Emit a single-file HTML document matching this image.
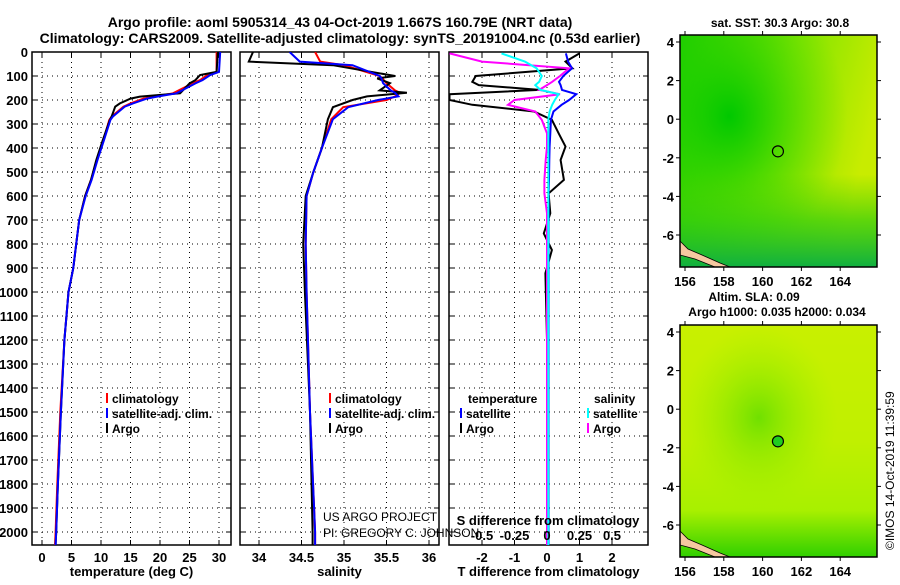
<!DOCTYPE html>
<html><head><meta charset="utf-8"><style>
body{margin:0;background:#fff;width:900px;height:580px;overflow:hidden}
svg{font-family:"Liberation Sans",Arial,sans-serif;font-weight:bold}
</style></head><body>
<svg id="c" width="900" height="580" viewBox="0 0 900 580">
<defs>
<radialGradient id="g1" cx="0.25" cy="0.35" r="0.6"><stop offset="0" stop-color="#00c800"/><stop offset="1" stop-color="#40d800" stop-opacity="0"/></radialGradient>
<linearGradient id="g0" x1="0" y1="0" x2="1" y2="0.3"><stop offset="0" stop-color="#18cc00"/><stop offset="0.55" stop-color="#80e400"/><stop offset="1" stop-color="#c8ec00"/></linearGradient>
<linearGradient id="g2" x1="0" y1="0" x2="0" y2="1"><stop offset="0.6" stop-color="#40d000" stop-opacity="0"/><stop offset="0.8" stop-color="#30cc10" stop-opacity="0.7"/><stop offset="1" stop-color="#10b040"/></linearGradient>
<linearGradient id="h0" x1="0" y1="0" x2="0" y2="1"><stop offset="0" stop-color="#c8f000"/><stop offset="0.5" stop-color="#c0f000"/><stop offset="0.8" stop-color="#a8f000"/><stop offset="1" stop-color="#30d000"/></linearGradient>
<radialGradient id="h1" cx="0.4" cy="0.4" r="0.4"><stop offset="0" stop-color="#70e000"/><stop offset="1" stop-color="#a0f000" stop-opacity="0"/></radialGradient>
</defs>
<g id="plots"></g>
<g id="maps"></g>
<text transform="translate(894,550) rotate(-90)" font-size="12" font-weight="normal">©IMOS 14-Oct-2019 11:39:59</text>
</svg>
<script>
// ---------- data ----------
const depthTicks=[0,100,200,300,400,500,600,700,800,900,1000,1100,1200,1300,1400,1500,1600,1700,1800,1900,2000];
const tTicks=[0,5,10,15,20,25,30];
const sTicks=[34,34.5,35,35.5,36];
const dTTicks=[-2,-1,0,1,2];
const dSTicks=[-0.5,-0.25,0,0.25,0.5];
const dSLabels=["-0.5","-0.25","0","0.25","0.5"];
const tDepth=[0,83,96,117,131,172,186,194,214,228,269,283,367,450,533,600,700,800,900,1000,1200,1500,1800,2000,2055];
const tArgo=[29.8,29.6,26.8,26,25,23.4,16.6,15,13.2,12.4,11.8,11.5,10.3,9.2,8.3,7.3,6.3,5.8,5.3,4.5,3.8,3.2,2.7,2.4,2.3];
const tClim=[29.6,29.6,28,26.8,25.5,22.2,19,17.2,15,13.8,11.8,11.4,10.4,9.3,8.3,7.3,6.3,5.8,5.3,4.5,3.8,3.1,2.6,2.3,2.2];
const tSat=[30.2,30,28.5,27.2,26,22.8,19.5,17.8,15.4,14,12,11.6,10.5,9.4,8.4,7.4,6.3,5.8,5.3,4.5,3.8,3.2,2.7,2.4,2.3];
const sDepth=[0,40,55,100,110,130,160,170,185,200,230,280,400,500,600,800,1000,1500,2000,2055];
const sArgo=[33.93,33.88,34.87,35.6,35.39,35.54,35.42,35.74,35.27,35.1,34.87,34.81,34.74,34.64,34.55,34.52,34.54,34.6,34.63,34.63];
const sClim=[34.66,34.72,35.0,35.42,35.45,35.5,35.6,35.66,35.6,35.5,34.99,34.85,34.74,34.64,34.56,34.55,34.56,34.6,34.66,34.66];
const sSat=[34.36,34.48,35.1,35.42,35.44,35.46,35.55,35.6,35.64,35.4,35.05,34.87,34.74,34.64,34.56,34.55,34.56,34.6,34.66,34.66];
const dDepth=[6,40,68,100,124,138,158,176,200,220,248,283,339,394,450,533,589,672,756,825,922,1200,1600,2055];
const dTArgo=[1.0,0.57,0.78,-2.19,-2.3,-2.1,-0.24,-3.0,-3.0,-2.3,-0.4,0.15,0.36,0.57,0.42,0.52,0.05,0.1,-0.1,0.15,-0.05,0,0,0];
const dTSat=[0.58,0.65,0.77,0.5,0.37,0.42,0.46,0.9,0.68,0.45,0.2,0.12,0.1,0.08,0.07,0.06,0.05,0.05,0.05,0.05,0.05,0.05,0.05,0.05];
const dSArgo=[-0.75,-0.5,0.17,0.1,0.04,0.0,-0.06,0.1,-0.25,-0.3,-0.09,-0.04,0,0,-0.01,-0.02,-0.02,0,0,0,0,0,0,0];
const dSSat=[-0.35,-0.17,-0.08,-0.04,-0.06,-0.09,-0.05,0.09,0.06,0.04,0.02,0.01,0.01,0.01,0.01,0.01,0.01,0.01,0.01,0.01,0.01,0.01,0.01,0.01];
// ---------- helpers ----------
const NS="http://www.w3.org/2000/svg";
const P=document.getElementById('plots');
function mk(tag,at,par){const e=document.createElementNS(NS,tag);for(const k in at)e.setAttribute(k,at[k]);(par||P).appendChild(e);return e;}
const Y0=52,YB=545;
const yS=d=>Y0+d*0.24;
function txt(x,y,s,sz,anchor,name,par){const t=mk('text',{x:x,y:y,'font-size':sz,'text-anchor':anchor||'middle'},par);t.textContent=s;


return t;}
function panel(name,x0,x1,xS,ticks,labels,title,showDepth){
  const g=mk('g',{});
  
  
  const clip=mk('clipPath',{id:'cl'+name},g);mk('rect',{x:x0,y:Y0,width:x1-x0,height:YB-Y0},clip);
  depthTicks.forEach(d=>{const l=mk('line',{x1:x0,x2:x1,y1:yS(d),y2:yS(d),stroke:'#000','stroke-width':1,'stroke-dasharray':'1,4'},g);
    
    
    mk('line',{x1:x0,x2:x0+5,y1:yS(d),y2:yS(d),stroke:'#000'},g);mk('line',{x1:x1-5,x2:x1,y1:yS(d),y2:yS(d),stroke:'#000'},g);
    if(showDepth)txt(x0-4,yS(d)+5,String(d),13,'end','depth-tick-label',g);});
  ticks.forEach((v,i)=>{const x=xS(v);const l=mk('line',{x1:x,x2:x,y1:Y0,y2:YB,stroke:'#000','stroke-dasharray':'1,4'},g);
    
    
    mk('line',{x1:x,x2:x,y1:YB-5,y2:YB,stroke:'#000'},g);mk('line',{x1:x,x2:x,y1:Y0,y2:Y0+5,stroke:'#000'},g);
    txt(x,562,labels[i],13,'middle','x-tick-label',g);});
  mk('rect',{x:x0,y:Y0,width:x1-x0,height:YB-Y0,fill:'none',stroke:'#000','stroke-width':1.5},g);
  txt((x0+x1)/2,576,title,13,'middle','x-axis-title',g);
  return g;}
function line(g,name,clip,xs,ds,vals,xS,col,w){
  const pts=vals.map((v,i)=>xS(v).toFixed(1)+','+yS(ds[i]).toFixed(1)).join(' ');
  const p=mk('polyline',{points:pts,fill:'none',stroke:col,'stroke-width':w||2,'clip-path':'url(#cl'+clip+')'},g);
  
  }
function leg(g,x,y,col,s){mk('line',{x1:x,x2:x,y1:y-10,y2:y,stroke:col,'stroke-width':2},g);txt(x+5,y,s,12,'start','legend-entry',g);}
// titles
txt(340,27,'Argo profile: aoml 5905314_43 04-Oct-2019 1.667S 160.79E (NRT data)',14,'middle','chart-title');
txt(340,43,'Climatology: CARS2009. Satellite-adjusted climatology: synTS_20191004.nc (0.53d earlier)',14,'middle','chart-subtitle');
// panel 1
const xT=t=>42+t*5.9;
const g1=panel('temperature-panel',32,231,xT,tTicks,tTicks.map(String),'temperature (deg C)',true);
line(g1,'temp-climatology-line','temperature-panel',0,tDepth,tClim,xT,'#f00');
line(g1,'temp-argo-line','temperature-panel',0,tDepth,tArgo,xT,'#000');
line(g1,'temp-satellite-line','temperature-panel',0,tDepth,tSat,xT,'#00f');
leg(g1,107,403,'#f00','climatology');leg(g1,107,418,'#00f','satellite-adj. clim.');leg(g1,107,433,'#000','Argo');
// panel 2
const xSal=s=>259+(s-34)*85;
const g2=panel('salinity-panel',240,439,xSal,sTicks,['34','34.5','35','35.5','36'],'salinity',false);
line(g2,'sal-climatology-line','salinity-panel',0,sDepth,sClim,xSal,'#f00');
line(g2,'sal-argo-line','salinity-panel',0,sDepth,sArgo,xSal,'#000');
line(g2,'sal-satellite-line','salinity-panel',0,sDepth,sSat,xSal,'#00f');
leg(g2,330,403,'#f00','climatology');leg(g2,330,418,'#00f','satellite-adj. clim.');leg(g2,330,433,'#000','Argo');
const pr=txt(323,521,'US ARGO PROJECT',12,'start','project-credit',g2);pr.setAttribute('font-weight','normal');
const pi=txt(323,537,'PI: GREGORY C. JOHNSON',12,'start','pi-credit',g2);pi.setAttribute('font-weight','normal');
// panel 3
const xD=v=>547+v*32.5;const xDS=v=>547+v*130;
const g3=panel('difference-panel',449,648,xD,dTTicks,dTTicks.map(String),'T difference from climatology',false);
line(g3,'dT-argo-line','difference-panel',0,dDepth,dTArgo,xD,'#000');
line(g3,'dT-satellite-line','difference-panel',0,dDepth,dTSat,xD,'#00f');
line(g3,'dS-argo-line','difference-panel',0,dDepth,dSArgo,xDS,'#f0f');
line(g3,'dS-satellite-line','difference-panel',0,dDepth,dSSat,xDS,'#0ff');
txt(468,403,'temperature',12,'start','legend-title-temperature',g3);
txt(594,403,'salinity',12,'start','legend-title-salinity',g3);
leg(g3,461,418,'#00f','satellite');leg(g3,461,433,'#000','Argo');
leg(g3,588,418,'#0ff','satellite');leg(g3,588,433,'#f0f','Argo');
txt(548,525,'S difference from climatology',13,'middle','s-axis-title',g3);
dSTicks.forEach((v,i)=>txt(xDS(v),540,dSLabels[i],13,'middle','s-tick-label',g3));
// ---------- maps ----------
const M=document.getElementById('maps');
const lonTicks=[156,158,160,162,164];const latTicks=[4,2,0,-2,-4,-6];
function map(name,top,fillA,fillB,circleFill){
  const g=mk('g',{},M);
  
  
  const x0=680,w=197,h=232;
  mk('rect',{x:x0,y:top,width:w,height:h,fill:fillA},g);
  fillB.forEach(f=>mk('rect',{x:x0,y:top,width:w,height:h,fill:f},g));
  mk('path',{d:`M${x0},${top+h-26} L${x0+8},${top+h-18} L${x0+22},${top+h-12} L${x0+40},${top+h-4} L${x0+50},${top+h} L${x0+35},${top+h} L${x0+15},${top+h-8} L${x0},${top+h-12} Z`,fill:'#f5c8a0',stroke:'#000','stroke-width':0.8},g);
  const lx=l=>685+(l-156)*19.4, ly=l=>top+7+(4-l)*19.3;
  const c=mk('circle',{cx:lx(160.79),cy:ly(-1.667),r:5.5,fill:circleFill,stroke:'#000','stroke-width':1.2},g);
  
  
  mk('rect',{x:x0,y:top,width:w,height:h,fill:'none',stroke:'#000','stroke-width':1.5},g);
  lonTicks.forEach(l=>{mk('line',{x1:lx(l),x2:lx(l),y1:top,y2:top-4,stroke:'#000'},g);mk('line',{x1:lx(l),x2:lx(l),y1:top+h,y2:top+h+4,stroke:'#000'},g);txt(lx(l),top+h+19,String(l),13,'middle','lon-tick-label',g);});
  latTicks.forEach(l=>{mk('line',{x1:x0,x2:x0-4,y1:ly(l),y2:ly(l),stroke:'#000'},g);mk('line',{x1:x0+w,x2:x0+w+4,y1:ly(l),y2:ly(l),stroke:'#000'},g);txt(x0-6,ly(l)+5,String(l),13,'end','lat-tick-label',g);});
  return g;}
map('sst-map',35,'url(#g0)',['url(#g1)','url(#g2)'],'none');
txt(780,27,'sat. SST: 30.3 Argo: 30.8',12,'middle','sst-map-title',M);
map('sla-map',325,'url(#h0)',['url(#h1)'],'#20cc20');
txt(754,301,'Altim. SLA: 0.09',12,'middle','sla-map-title',M);
txt(777,316,'Argo h1000: 0.035 h2000: 0.034',12,'middle','sla-map-subtitle',M);
</script>
</body></html>
